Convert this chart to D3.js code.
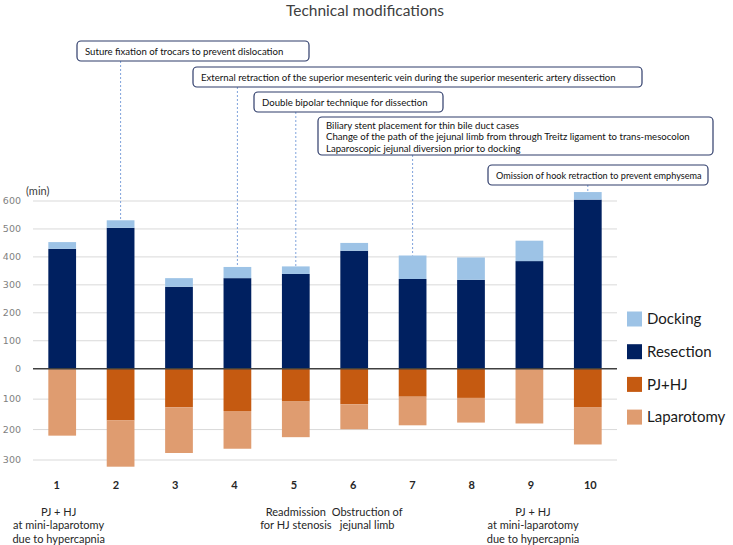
<!DOCTYPE html>
<html>
<head>
<meta charset="utf-8">
<script src="https://cdn.jsdelivr.net/npm/d3@7"></script>
<style>
  body { margin: 0; background: #fff; }
  text { font-family: Lato, "Open Sans", sans-serif; }
</style>
</head>
<body>
<div id="chart"></div>
<script>
// cases along the x axis
const cases = [1, 2, 3, 4, 5, 6, 7, 8, 9, 10];

// minutes
const docking = [24, 27, 31, 40, 27, 28, 84, 80, 73, 27];
const resection = [429, 504, 293, 324, 339, 422, 321, 318, 385, 605];
const pjhj = [0, 170, 127, 139, 108, 117, 92, 96, 0, 126];
const laparotomy = [220, 152, 150, 124, 117, 82, 94, 81, 180, 123];

const upTicks = [0, 100, 200, 300, 400, 500, 600];
const downTicks = [100, 200, 300];

const seriesNames = ["Docking", "Resection", "PJ+HJ", "Laparotomy"];
const seriesColors = ["#9DC3E6", "#002060", "#C55A11", "#DF9C70"];

// technical modifications and the case they were introduced in
const modTexts = [
  ["Suture fixation of trocars to prevent dislocation"],
  ["External retraction of the superior mesenteric vein during the superior mesenteric artery dissection"],
  ["Double bipolar technique for dissection"],
  ["Biliary stent placement for thin bile duct cases",
   "Change of the path of the jejunal limb from through Treitz ligament to trans-mesocolon",
   "Laparoscopic jejunal diversion prior to docking"],
  ["Omission of hook retraction to prevent emphysema"],
];
const modCases = [2, 4, 5, 7, 10];

// notes under some cases
const noteCases = [1, 5, 6, 9];
const noteTexts = [
  ["PJ + HJ", "at mini-laparotomy", "due to hypercapnia"],
  ["Readmission", "for HJ stenosis"],
  ["Obstruction of", "jejunal limb"],
  ["PJ + HJ", "at mini-laparotomy", "due to hypercapnia"],
];

// layout
const W = 733, H = 545;
const plotLeft = 33, plotRight = 617;
const zeroY = 368.7, topY = 201, bottomY = 460;
const boxLayout = [
  { x: 77, y: 41, w: 232, h: 20 },
  { x: 193, y: 67, w: 449, h: 20 },
  { x: 254, y: 92, w: 189, h: 20 },
  { x: 318, y: 117, w: 395, h: 38 },
  { x: 488, y: 165, w: 220, h: 20 },
];

const svg = d3.select("#chart").append("svg")
  .attr("width", W).attr("height", H);

const x = d3.scaleBand().domain(cases).range([plotLeft, plotRight])
  .paddingInner(0.525).paddingOuter(0.2625);
const xLabel = d3.scaleBand().domain(cases).range([27, 620]);

const yUp = d3.scaleLinear().domain([0, 600]).range([zeroY, topY]);
const yDown = d3.scaleLinear().domain([0, 300]).range([zeroY, bottomY]);

// title
svg.append("text")
  .attr("x", 365).attr("y", 16)
  .attr("text-anchor", "middle")
  .style("font-size", "15.5px").style("fill", "#404040")
  .text("Technical modifications");

// grid
const grid = svg.append("g");
grid.selectAll(".gu").data(upTicks.slice(1)).join("line")
  .attr("x1", plotLeft).attr("x2", plotRight)
  .attr("y1", d => yUp(d)).attr("y2", d => yUp(d))
  .style("stroke", "#d9d9d9").style("stroke-width", 1);
grid.selectAll(".gd").data(downTicks).join("line")
  .attr("x1", plotLeft).attr("x2", plotRight)
  .attr("y1", d => yDown(d)).attr("y2", d => yDown(d))
  .style("stroke", "#d9d9d9").style("stroke-width", 1);

// y tick labels (both halves shown as positive minutes)
const tickStyle = sel => sel.attr("x", 21).attr("text-anchor", "end")
  .attr("dy", "0.35em")
  .style("font-family", "'DejaVu Sans', sans-serif")
  .style("font-size", "9.5px").style("fill", "#7f7f7f");
svg.append("g").selectAll("text").data(upTicks).join("text")
  .attr("y", d => yUp(d)).call(tickStyle).text(d => d);
svg.append("g").selectAll("text").data(downTicks).join("text")
  .attr("y", d => yDown(d)).call(tickStyle).text(d => d);

svg.append("text").attr("x", 26).attr("y", 195)
  .style("font-size", "11px").style("fill", "#404040").text("(min)");

// bars
const rows = cases.map((c, i) => ({
  c, docking: docking[i], resection: resection[i], pjhj: pjhj[i], laparotomy: laparotomy[i],
}));
const bars = svg.append("g");
bars.selectAll(".res").data(rows).join("rect")
  .attr("x", d => x(d.c)).attr("width", x.bandwidth())
  .attr("y", d => yUp(d.resection))
  .attr("height", d => yUp(0) - yUp(d.resection))
  .style("fill", seriesColors[1]);
bars.selectAll(".dock").data(rows).join("rect")
  .attr("x", d => x(d.c)).attr("width", x.bandwidth())
  .attr("y", d => yUp(d.resection + d.docking))
  .attr("height", d => yUp(d.resection) - yUp(d.resection + d.docking))
  .style("fill", seriesColors[0]);
bars.selectAll(".pj").data(rows).join("rect")
  .attr("x", d => x(d.c)).attr("width", x.bandwidth())
  .attr("y", yDown(0))
  .attr("height", d => yDown(d.pjhj) - yDown(0))
  .style("fill", seriesColors[2]);
bars.selectAll(".lap").data(rows).join("rect")
  .attr("x", d => x(d.c)).attr("width", x.bandwidth())
  .attr("y", d => yDown(d.pjhj))
  .attr("height", d => yDown(d.pjhj + d.laparotomy) - yDown(d.pjhj))
  .style("fill", seriesColors[3]);

// zero line
svg.append("line")
  .attr("x1", plotLeft).attr("x2", plotRight)
  .attr("y1", yUp(0)).attr("y2", yUp(0))
  .style("stroke", "#404040").style("stroke-width", 1.5);

// case numbers
svg.append("g").selectAll("text").data(cases).join("text")
  .attr("x", d => xLabel(d) + xLabel.bandwidth() / 2)
  .attr("y", 489)
  .attr("text-anchor", "middle")
  .style("font-size", "11px").style("font-weight", "bold").style("fill", "#262626")
  .text(d => d);

// notes under cases
noteCases.forEach((c, i) => {
  const shift = c === 6 ? 14 : 2;
  const t = svg.append("text")
    .attr("x", xLabel(c) + xLabel.bandwidth() / 2 + shift)
    .attr("y", 516)
    .attr("text-anchor", "middle")
    .style("font-size", "11px").style("fill", "#262626");
  noteTexts[i].forEach((line, j) => {
    t.append("tspan")
      .attr("x", xLabel(c) + xLabel.bandwidth() / 2 + shift)
      .attr("dy", j === 0 ? 0 : 13.3)
      .text(line);
  });
});

// annotation connectors and boxes
modCases.forEach((c, i) => {
  const b = boxLayout[i];
  const idx = cases.indexOf(c);
  const cx = x(c) + x.bandwidth() / 2;
  svg.append("line")
    .attr("x1", cx).attr("x2", cx)
    .attr("y1", b.y + b.h)
    .attr("y2", yUp(resection[idx] + docking[idx]))
    .style("stroke", "#7FA3DC").style("stroke-width", 1)
    .style("stroke-dasharray", "2,2");
});
modCases.forEach((c, i) => {
  const b = boxLayout[i];
  svg.append("rect")
    .attr("x", b.x).attr("y", b.y).attr("width", b.w).attr("height", b.h)
    .attr("rx", 4).attr("ry", 4)
    .style("fill", "#fff").style("stroke", "#2F3D6B").style("stroke-width", 1.2);
  const lines = modTexts[i];
  const t = svg.append("text")
    .attr("y", b.y + (lines.length === 1 ? 13.5 : 11.5))
    .style("font-size", "9.6px").style("fill", "#111");
  lines.forEach((line, j) => {
    t.append("tspan")
      .attr("x", b.x + 8)
      .attr("dy", j === 0 ? 0 : 11.5)
      .text(line);
  });
  // shrink the text if its widest line would not fit inside the box
  const widest = d3.max(t.selectAll("tspan").nodes(), n => n.getComputedTextLength());
  const room = b.w - 14;
  if (widest > room) t.style("font-size", (9.6 * room / widest).toFixed(2) + "px");
});

// legend
const legend = svg.append("g");
seriesNames.forEach((name, i) => {
  const ly = 319 + i * 32.7;
  legend.append("rect")
    .attr("x", 627).attr("y", ly - 7.5).attr("width", 15).attr("height", 15)
    .style("fill", seriesColors[i]);
  legend.append("text")
    .attr("x", 647).attr("y", ly).attr("dy", "0.35em")
    .style("font-size", "15px").style("fill", "#1a1a1a")
    .text(name);
});
</script>
</body>
</html>
